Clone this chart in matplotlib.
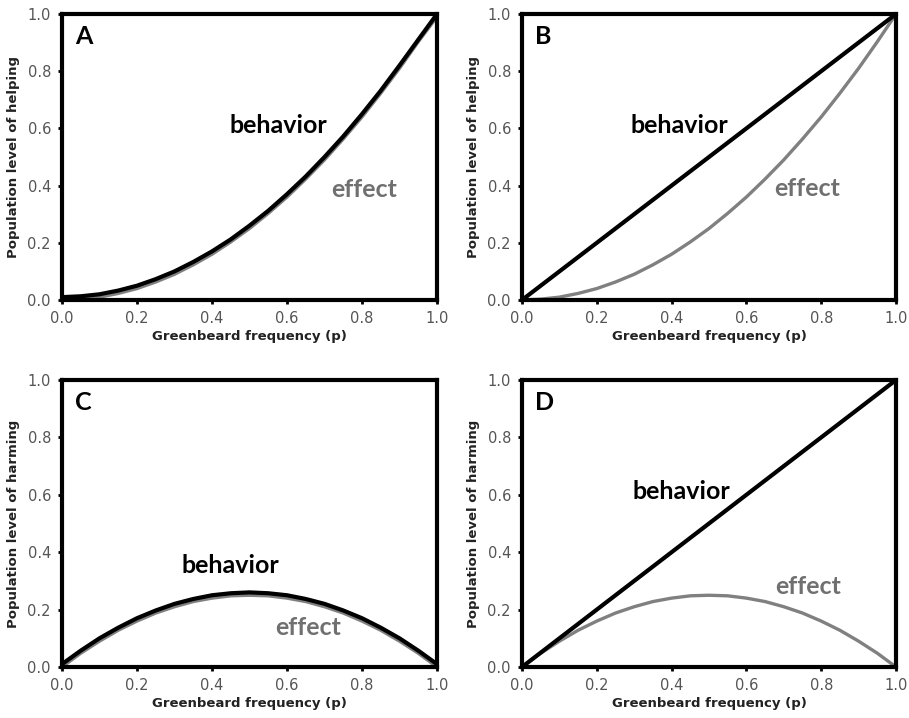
import matplotlib
matplotlib.use("Agg")
import matplotlib.pyplot as plt

# greenbeard frequency grid
p = [0.00, 0.05, 0.10, 0.15, 0.20, 0.25, 0.30, 0.35, 0.40, 0.45, 0.50,
     0.55, 0.60, 0.65, 0.70, 0.75, 0.80, 0.85, 0.90, 0.95, 1.00]

# panel A: helping, behavior and effect almost overlapping
behavior_A = [0.010, 0.013, 0.020, 0.033, 0.050, 0.073, 0.100, 0.133, 0.170, 0.212, 0.260,
              0.312, 0.370, 0.432, 0.500, 0.572, 0.650, 0.732, 0.820, 0.910, 1.000]
effect_A = [0.000, 0.003, 0.010, 0.023, 0.040, 0.063, 0.090, 0.123, 0.160, 0.203, 0.250,
            0.303, 0.360, 0.423, 0.490, 0.563, 0.640, 0.723, 0.810, 0.903, 0.990]

# panel B: helping
behavior_B = [0.00, 0.05, 0.10, 0.15, 0.20, 0.25, 0.30, 0.35, 0.40, 0.45, 0.50,
              0.55, 0.60, 0.65, 0.70, 0.75, 0.80, 0.85, 0.90, 0.95, 1.00]
effect_B = [0.000, 0.003, 0.010, 0.023, 0.040, 0.063, 0.090, 0.123, 0.160, 0.203, 0.250,
            0.303, 0.360, 0.423, 0.490, 0.563, 0.640, 0.723, 0.810, 0.903, 1.000]

# panel C: harming, behavior and effect almost overlapping
behavior_C = [0.010, 0.057, 0.100, 0.137, 0.170, 0.197, 0.220, 0.237, 0.250, 0.257, 0.260,
              0.257, 0.250, 0.237, 0.220, 0.197, 0.170, 0.137, 0.100, 0.057, 0.010]
effect_C = [0.000, 0.048, 0.090, 0.128, 0.160, 0.188, 0.210, 0.228, 0.240, 0.248, 0.250,
            0.248, 0.240, 0.228, 0.210, 0.188, 0.160, 0.128, 0.090, 0.048, 0.000]

# panel D: harming
behavior_D = [0.00, 0.05, 0.10, 0.15, 0.20, 0.25, 0.30, 0.35, 0.40, 0.45, 0.50,
              0.55, 0.60, 0.65, 0.70, 0.75, 0.80, 0.85, 0.90, 0.95, 1.00]
effect_D = [0.000, 0.048, 0.090, 0.128, 0.160, 0.188, 0.210, 0.228, 0.240, 0.248, 0.250,
            0.248, 0.240, 0.228, 0.210, 0.188, 0.160, 0.128, 0.090, 0.048, 0.000]

tick_vals = [0.0, 0.2, 0.4, 0.6, 0.8, 1.0]
tick_labels = ["0.0", "0.2", "0.4", "0.6", "0.8", "1.0"]

panels = [
    ("A", behavior_A, effect_A, "Population level of helping", (0.576, 0.61), (0.805, 0.385)),
    ("B", behavior_B, effect_B, "Population level of helping", (0.42, 0.61), (0.763, 0.39)),
    ("C", behavior_C, effect_C, "Population level of harming", (0.45, 0.355), (0.657, 0.136)),
    ("D", behavior_D, effect_D, "Population level of harming", (0.427, 0.61), (0.765, 0.28)),
]

# axes boxes in pixels (left, top, right, bottom)
W, H = 909, 718
boxes = [
    (62, 14, 437, 300),
    (522, 14, 896, 300),
    (62, 380, 437, 667),
    (522, 380, 896, 667),
]

fig = plt.figure(figsize=(9.09, 7.18), dpi=100)
fig.patch.set_facecolor("white")

for (letter, beh, eff, ylab, beh_pos, eff_pos), (x0, y0, x1, y1) in zip(panels, boxes):
    ax = fig.add_axes([x0 / W, 1 - y1 / H, (x1 - x0) / W, (y1 - y0) / H])
    ax.plot(p, eff, color="#808080", lw=2.4, solid_capstyle="round", zorder=2)
    ax.plot(p, beh, color="black", lw=3.0, solid_capstyle="round", zorder=3)
    ax.set_xlim(0, 1)
    ax.set_ylim(0, 1)
    ax.set_xticks(tick_vals)
    ax.set_xticklabels(tick_labels)
    ax.set_yticks(tick_vals)
    ax.set_yticklabels(tick_labels)
    ax.tick_params(axis="both", direction="out", length=3, width=2, color="black",
                   labelsize=10.5, labelcolor="#555555", pad=5)
    for s in ax.spines.values():
        s.set_linewidth(3)
        s.set_color("black")
    ax.set_xlabel("Greenbeard frequency (p)", fontsize=9.5, fontweight="bold",
                  color="#222222", labelpad=3)
    ax.set_ylabel(ylab, fontsize=9.5, fontweight="bold", color="#222222", labelpad=5)
    ax.text(0.035, 0.92, letter, transform=ax.transAxes, fontsize=18, fontweight="bold",
            family="Lato", ha="left", va="center", color="black")
    ax.text(beh_pos[0], beh_pos[1], "behavior", fontsize=18, fontweight="bold",
            family="Lato", ha="center", va="center", color="black")
    ax.text(eff_pos[0], eff_pos[1], "effect", fontsize=18, fontweight="bold",
            family="Lato", ha="center", va="center", color="#707070")

fig.savefig("out.png", dpi=100, facecolor="white")
